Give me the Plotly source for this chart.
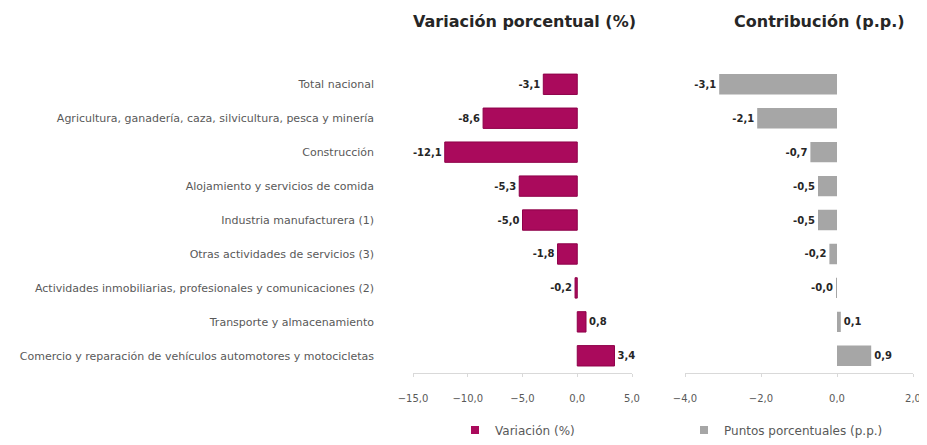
import plotly.graph_objects as go

categories = [
    "Total nacional",
    "Agricultura, ganadería, caza, silvicultura, pesca y minería",
    "Construcción",
    "Alojamiento y servicios de comida",
    "Industria manufacturera (1)",
    "Otras actividades de servicios (3)",
    "Actividades inmobiliarias, profesionales y comunicaciones (2)",
    "Transporte y almacenamiento",
    "Comercio y reparación de vehículos automotores y motocicletas",
]
variacion = [-3.1, -8.6, -12.1, -5.3, -5.0, -1.8, -0.2, 0.8, 3.4]
contribucion = [-3.1, -2.1, -0.7, -0.5, -0.5, -0.2, -0.01, 0.1, 0.9]
left_ticks = [-15, -10, -5, 0, 5]
right_ticks = [-4, -2, 0, 2]

def fmt(v):
    return f"{v:.1f}".replace(".", ",")

FONT = "DejaVu Sans"
LABEL_COLOR = "#595959"
DATA_COLOR = "#262626"
MAGENTA = "#AA0A5C"
GRAY = "#A6A6A6"

# page body has an 8px margin; figure is sized to fit the window
OFF = 8
W, H = 927 - OFF, 445 - OFF
def px(x):
    return (x - OFF) / W
def py(y):
    return 1 - (y - OFF) / H

fig = go.Figure()
fig.add_trace(go.Bar(
    y=categories, x=variacion, orientation="h",
    marker=dict(color=MAGENTA, line=dict(color="#8E0049", width=1)),
    text=[fmt(v) for v in variacion], textposition="outside",
    textfont=dict(family=FONT, size=10, color=DATA_COLOR, weight="bold"),
    cliponaxis=False, width=0.6, showlegend=False,
    name="Variación (%)", xaxis="x", yaxis="y",
))
fig.add_trace(go.Bar(
    y=categories, x=contribucion, orientation="h",
    marker=dict(color=GRAY, line=dict(width=0)),
    text=[fmt(v) for v in contribucion], textposition="outside",
    textfont=dict(family=FONT, size=10, color=DATA_COLOR, weight="bold"),
    cliponaxis=False, width=0.6, showlegend=False,
    name="Puntos porcentuales (p.p.)", xaxis="x2", yaxis="y2",
))
# legend entries
fig.add_trace(go.Scatter(
    x=[None], y=[None], mode="markers", name="Variación (%)",
    marker=dict(symbol="square", size=8, color=MAGENTA), xaxis="x", yaxis="y",
    legend="legend", showlegend=True,
))
fig.add_trace(go.Scatter(
    x=[None], y=[None], mode="markers", name="Puntos porcentuales (p.p.)",
    marker=dict(symbol="square", size=8, color=GRAY), xaxis="x2", yaxis="y2",
    legend="legend2", showlegend=True,
))

axis_common = dict(
    showgrid=False, zeroline=False, showline=True, linecolor="#D9D9D9", linewidth=1,
    ticks="outside", ticklen=3, tickcolor="#D9D9D9",
    tickfont=dict(family=FONT, size=10, color=LABEL_COLOR),
    tickformat=".1f", ticklabelstandoff=13, automargin=False,
)
ydom = [py(377), py(68)]
leg_font = dict(family=FONT, size=12, color=LABEL_COLOR)
fig.update_layout(
    width=W, height=H,
    margin=dict(l=0, r=0, t=0, b=0),
    paper_bgcolor="white", plot_bgcolor="white",
    separators=",.",
    showlegend=True,
    xaxis=dict(domain=[px(413), px(632)], range=[-15, 5], tickvals=left_ticks, anchor="y", **axis_common),
    yaxis=dict(domain=ydom, autorange="reversed", showline=False, showgrid=False, ticks="",
               tickfont=dict(family=FONT, size=11, color=LABEL_COLOR), ticklabelstandoff=38,
               automargin=False, anchor="x"),
    xaxis2=dict(domain=[px(685), px(913)], range=[-4, 2], tickvals=right_ticks, anchor="y2", **axis_common),
    yaxis2=dict(domain=ydom, autorange="reversed", showline=False, showgrid=False, showticklabels=False,
                ticks="", automargin=False, anchor="x2"),
    legend=dict(orientation="h", x=px(455), xanchor="left", y=py(435), yanchor="middle",
                font=leg_font, bgcolor="rgba(0,0,0,0)", itemwidth=30),
    legend2=dict(orientation="h", x=px(684), xanchor="left", y=py(435), yanchor="middle",
                 font=leg_font, bgcolor="rgba(0,0,0,0)", itemwidth=30),
    annotations=[
        dict(text="<b>Variación porcentual (%)</b>", x=px(524), y=py(22), xref="paper", yref="paper",
             showarrow=False, font=dict(family=FONT, size=16, color="#262626"), xanchor="center", yanchor="middle"),
        dict(text="<b>Contribución (p.p.)</b>", x=px(819), y=py(22), xref="paper", yref="paper",
             showarrow=False, font=dict(family=FONT, size=16, color="#262626"), xanchor="center", yanchor="middle"),
    ],
)

fig.write_html("out.html")
